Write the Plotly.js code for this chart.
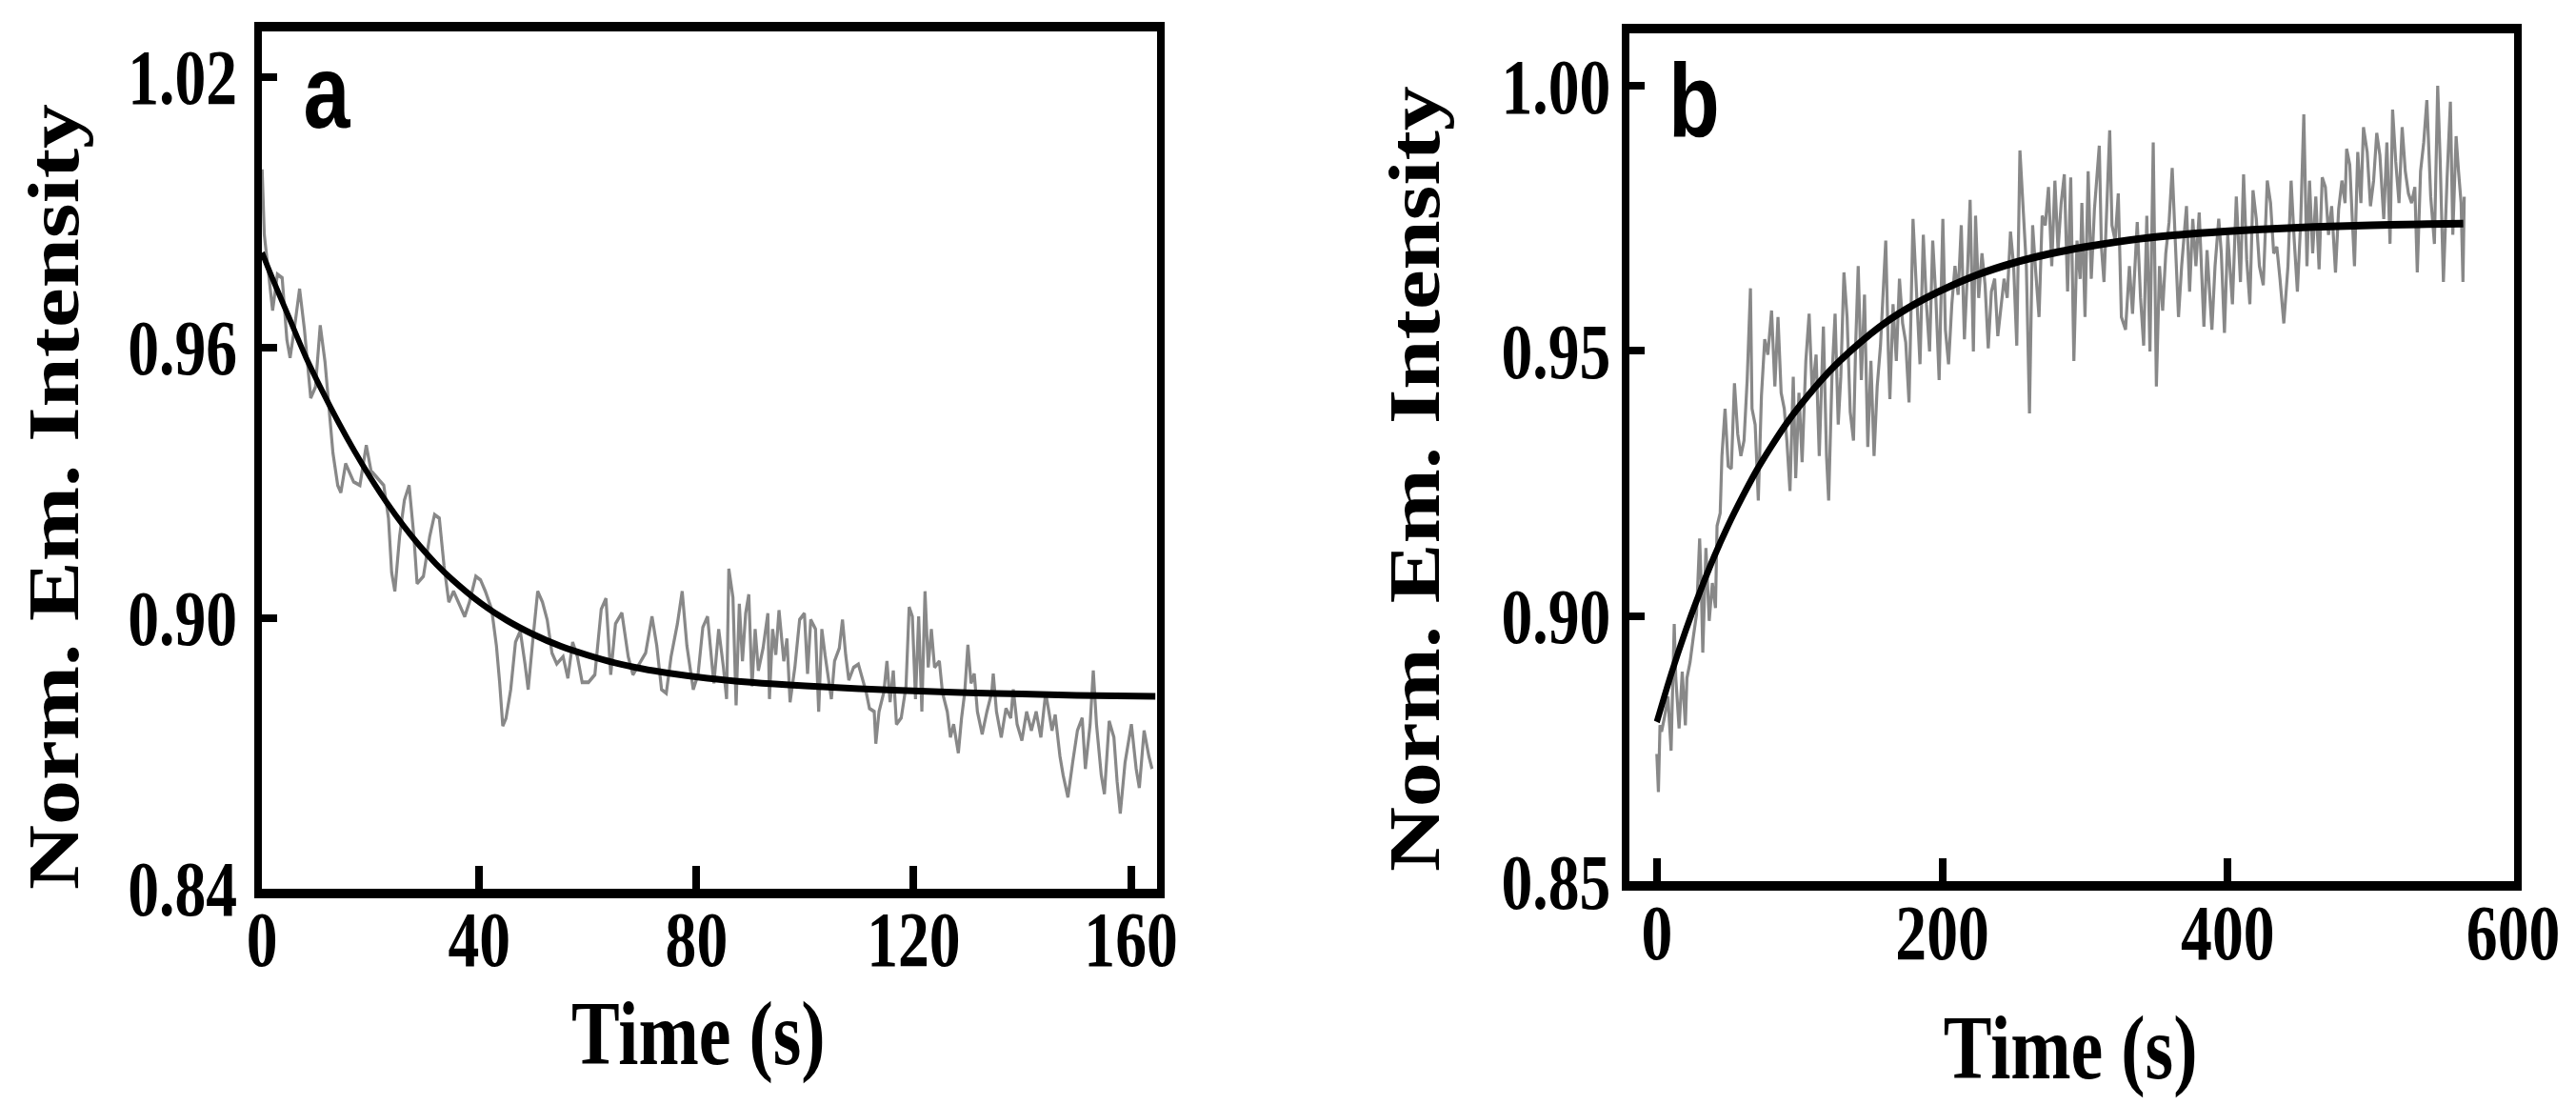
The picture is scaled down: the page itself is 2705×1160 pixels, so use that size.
<!DOCTYPE html>
<html>
<head>
<meta charset="utf-8">
<script src="https://cdn.plot.ly/plotly-3.0.1.min.js"></script>
<style>
  html, body { margin: 0; padding: 0; background: #ffffff; overflow: hidden; }
  #plot { width: 3381px; height: 1160px; transform: scaleX(0.8); transform-origin: 0 0; }
</style>
</head>
<body>
<div id="plot"></div>
<script>
// ---------- Panel a : measured trace ----------
const timeA = [
  0, 0.4, 1.05, 1.93, 2.81, 3.69, 4.56, 5.15, 6.02, 6.90,
  7.78, 8.95, 9.82, 10.70, 11.58, 12.46, 13.04, 13.92, 14.50, 15.38,
  16.84, 18.01, 19.18, 20.06, 21.23, 22.40, 23.27, 23.86, 24.44, 25.32,
  26.20, 27.07, 27.95, 28.54, 29.70, 30.87, 31.75, 32.63, 33.50, 34.38,
  35.26, 36.14, 37.31, 38.18, 39.35, 40.23, 41.11, 42.27, 43.15, 43.74,
  44.32, 44.91, 45.78, 46.66, 47.54, 48.41, 49.00, 49.88, 50.75, 51.63,
  52.51, 53.38, 54.26, 55.43, 56.31, 57.19, 58.06, 58.94, 60.11, 61.28,
  62.45, 63.32, 64.20, 65.08, 66.25, 67.42, 68.29, 69.46, 70.63, 71.80,
  72.68, 73.56, 74.43, 75.31, 76.48, 77.36, 78.23, 79.40, 80.28, 81.16,
  82.03, 82.91,
  83.20, 84.08, 84.96, 85.54, 85.95, 86.71, 87.29, 87.88, 88.46, 89.05,
  89.63, 90.22, 90.80, 91.39, 92.26, 93.14, 93.43, 94.02, 94.60, 95.19,
  96.07, 96.65, 97.23, 98.11, 98.99, 99.87, 100.45, 101.04, 101.91, 102.50,
  103.08, 103.67, 104.25, 104.84, 105.42, 106.30, 106.88, 107.47, 108.05, 108.93,
  109.81, 110.68, 111.27, 111.85, 112.73, 113.02, 113.61, 114.48, 115.07, 115.65,
  116.24, 116.82, 117.70, 118.58, 119.16, 119.75, 120.33, 120.91, 121.50, 122.08,
  122.67, 123.25, 123.84, 124.72, 125.30, 126.18, 126.76, 127.35, 128.22, 128.81,
  129.39, 129.98, 130.56, 131.15, 131.73, 132.61, 133.48, 134.36, 134.65, 135.24,
  136.12, 136.99, 137.87, 138.34, 139.04, 139.92, 140.79, 141.67, 142.55, 143.42,
  144.30, 144.89, 145.47, 146.06, 146.93, 147.52, 148.40, 149.27, 150.15, 151.03,
  151.61, 152.49, 153.07, 153.66, 154.54, 155.12, 156.00, 156.87, 157.46, 158.04,
  158.92, 160.09, 160.97, 161.55, 162.43, 163.31, 163.89
];
const intensityA = [
  0.9995, 0.9850, 0.9779, 0.9682, 0.9762, 0.9754, 0.9617, 0.9577, 0.9649, 0.9730,
  0.9641, 0.9488, 0.9512, 0.9649, 0.9568, 0.9439, 0.9366, 0.9294, 0.9278, 0.9342,
  0.9302, 0.9294, 0.9383, 0.9326, 0.9310, 0.9294, 0.9221, 0.9100, 0.9059, 0.9181,
  0.9261, 0.9294, 0.9181, 0.9076, 0.9092, 0.9181, 0.9229, 0.9221, 0.9116, 0.9035,
  0.9059, 0.9035, 0.9003, 0.9035, 0.9092, 0.9084, 0.9059, 0.9019, 0.8938, 0.8857,
  0.8760, 0.8777, 0.8841, 0.8946, 0.8971, 0.8898, 0.8841, 0.8954, 0.9059, 0.9035,
  0.8995, 0.8922, 0.8898, 0.8914, 0.8866, 0.8946, 0.8914, 0.8857, 0.8857, 0.8874,
  0.9019, 0.9043, 0.8874, 0.8987, 0.9011, 0.8914, 0.8874, 0.8898, 0.8922, 0.9003,
  0.8938, 0.8841, 0.8833, 0.8914, 0.8987, 0.9059, 0.8938, 0.8841, 0.8874, 0.8979,
  0.9003, 0.8890,
  0.8855, 0.8975, 0.8890, 0.8820, 0.9109, 0.9045, 0.8806, 0.9031, 0.8904, 0.9010,
  0.9052, 0.8848, 0.8975, 0.8883, 0.8933, 0.9010, 0.8820, 0.8975, 0.8918, 0.9017,
  0.8904, 0.8954, 0.8813, 0.8890, 0.8996, 0.9010, 0.8876, 0.8996, 0.8975, 0.8792,
  0.8975, 0.8918, 0.8869, 0.8820, 0.8904, 0.8933, 0.8996, 0.8918, 0.8862, 0.8890,
  0.8897, 0.8862, 0.8834, 0.8799, 0.8792, 0.8721, 0.8792, 0.8834, 0.8904, 0.8813,
  0.8883, 0.8764, 0.8778, 0.8848, 0.9024, 0.9003, 0.8820, 0.9003, 0.8792, 0.9059,
  0.8890, 0.8975, 0.8890, 0.8904, 0.8834, 0.8792, 0.8735, 0.8764, 0.8700, 0.8778,
  0.8834, 0.8940, 0.8855, 0.8876, 0.8792, 0.8742, 0.8792, 0.8834, 0.8876, 0.8792,
  0.8735, 0.8799, 0.8778, 0.8841, 0.8764, 0.8728, 0.8792, 0.8750, 0.8792, 0.8735,
  0.8834, 0.8792, 0.8750, 0.8785, 0.8693, 0.8651, 0.8602, 0.8679, 0.8750, 0.8778,
  0.8665, 0.8764, 0.8883, 0.8764, 0.8651, 0.8609, 0.8771, 0.8735, 0.8637, 0.8566,
  0.8679, 0.8764, 0.8665, 0.8623, 0.8750, 0.8693, 0.8665
];

// ---------- Panel a : fitted curve ----------
const fitTimeA = [0, 2, 5, 8, 11, 14, 17, 20, 23, 26, 29, 32, 35, 40, 45, 50, 55, 60, 65, 70,
  75, 82, 90, 100, 110, 120, 130, 140, 150, 164.5];
const fitA = [0.981, 0.975, 0.9665, 0.958, 0.9505, 0.9435, 0.937, 0.931, 0.9255, 0.9205,
  0.916, 0.912, 0.9085, 0.9035, 0.8995, 0.8963, 0.8937, 0.8917, 0.8900, 0.8887,
  0.8877, 0.8866, 0.8857, 0.8849, 0.8843, 0.8838, 0.8834, 0.8831, 0.8828, 0.8826];

// ---------- Panel b : measured trace ----------
const timeB = [
  0.0, 1.11, 2.22, 3.33, 5.56, 7.78, 10.0, 11.1, 12.2, 13.3,
  15.6, 17.8, 20.0, 21.1, 23.3, 25.6, 27.8, 30.0, 31.1, 32.2,
  34.4, 36.7, 38.9, 41.1, 42.2, 44.4, 45.6, 47.8, 50.0,
  52.2, 54.4, 56.7, 58.9, 61.1, 63.3, 65.6, 66.7, 68.9, 71.1,
  73.3, 75.6, 77.8, 80.4, 82.7, 84.9, 87.1, 89.3, 91.1, 93.3,
  95.6, 97.3, 99.6, 101.8, 104.4, 106.7, 108.9, 111.6, 113.8, 116.7,
  118.9, 120.4, 122.7, 124.9, 127.1, 128.9, 131.1, 133.3, 135.5, 137.8,
  139.3, 141.1, 143.3, 145.5, 147.8, 150.0, 152.2, 154.4, 156.7, 158.4,
  160.4, 162.2, 163.3, 165.5, 167.8, 170.0, 172.2, 174.4, 176.7, 179.5,
  181.8, 184.4, 186.7, 188.9, 191.1, 193.3, 195.5, 197.8, 200.4, 202.2,
  204.4, 206.7, 208.9, 211.1, 213.3, 215.5, 217.8, 219.5, 221.8, 223.3,
  225.5, 227.8, 230.0, 232.2, 234.4, 236.7, 238.9, 241.1, 243.3, 245.5,
  247.8, 250.0, 252.2, 254.4, 256.7, 258.9, 261.1, 263.3, 265.5, 267.8,
  270.0, 272.2, 274.4, 276.7, 278.9, 281.1, 283.3, 285.5, 287.8, 290.0,
  292.2, 294.4, 296.6, 297.8, 300.0, 302.2, 304.4, 306.6, 310.0, 311.5,
  313.3, 315.1, 317.3, 318.9, 321.1, 323.3, 325.5, 328.4, 331.1, 333.3,
  336.6, 338.9, 341.1, 343.3, 345.5, 347.8, 350.0, 352.2, 354.4, 356.6,
  358.9, 361.1, 363.3, 365.5, 367.7, 371.1, 373.3, 375.5, 377.7, 380.0,
  383.3, 385.5,
  388.9, 391.1, 393.7, 395.5, 397.7, 400.0, 403.3, 406.0, 408.9, 411.1,
  413.3, 415.5, 417.7, 420.0, 422.2, 424.9, 427.7, 430.0, 432.2, 434.4,
  436.6, 439.3, 442.2, 444.4, 446.6, 448.8, 451.1, 453.3, 455.5, 457.3,
  459.5, 461.7, 464.0, 466.2, 468.4, 470.6, 472.8, 475.5, 477.7, 480.0,
  482.2, 483.3, 485.5, 487.1, 488.8, 491.1, 493.3, 495.1, 497.7, 500.0,
  502.2, 504.4, 506.6, 509.3, 511.5, 513.7, 515.5, 517.7, 520.0, 522.2,
  524.4, 526.6, 528.8, 531.1, 532.8, 535.1, 537.3, 539.5, 542.2, 544.8,
  547.1, 548.8, 551.1, 553.7, 556.0, 557.7, 560.0, 561.7, 563.5, 564.8,
  565.7
];
const intensityB = [
  0.8740, 0.8668, 0.8794, 0.8782, 0.8812, 0.8848, 0.8746, 0.8853, 0.8985, 0.8883,
  0.8788, 0.8895, 0.8794, 0.8883, 0.8913, 0.8961, 0.9003, 0.9146, 0.9062, 0.8931,
  0.9128, 0.8991, 0.9062, 0.9015, 0.9170, 0.9194, 0.9301, 0.9391, 0.9283,
  0.9278, 0.9439, 0.9343, 0.9302, 0.9331, 0.9445, 0.9618, 0.9391, 0.9361, 0.9218,
  0.9415, 0.9522, 0.9493, 0.9576, 0.9433, 0.9564, 0.9421, 0.9391, 0.9331, 0.9236,
  0.9451, 0.9260, 0.9421, 0.9290, 0.9481, 0.9570, 0.9421, 0.9493, 0.9302, 0.9546,
  0.9302, 0.9218, 0.9451, 0.9570, 0.9361, 0.9451, 0.9648, 0.9564, 0.9385, 0.9331,
  0.9510, 0.9660, 0.9445, 0.9606, 0.9319, 0.9481, 0.9302, 0.9433, 0.9510, 0.9594,
  0.9708, 0.9499, 0.9409, 0.9588, 0.9481, 0.9636, 0.9552, 0.9516, 0.9403, 0.9749,
  0.9612, 0.9475, 0.9719, 0.9588, 0.9499, 0.9708, 0.9600, 0.9445, 0.9749, 0.9540,
  0.9475, 0.9588, 0.9660, 0.9606, 0.9737, 0.9522, 0.9660, 0.9785, 0.9499, 0.9755,
  0.9600, 0.9684, 0.9624, 0.9505, 0.9612, 0.9636, 0.9528, 0.9588, 0.9636, 0.9600,
  0.9725, 0.9660, 0.9510, 0.9878, 0.9773, 0.9660, 0.9382, 0.9737, 0.9648, 0.9564,
  0.9755, 0.9737, 0.9809, 0.9660, 0.9821, 0.9690, 0.9779, 0.9833, 0.9612, 0.9827,
  0.9481, 0.9708, 0.9636, 0.9779, 0.9564, 0.9839, 0.9636, 0.9767, 0.9887, 0.9696,
  0.9630, 0.9749, 0.9916, 0.9737, 0.9708, 0.9797, 0.9564, 0.9540, 0.9660, 0.9570,
  0.9743, 0.9600, 0.9510, 0.9755, 0.9499, 0.9893, 0.9433, 0.9660, 0.9576, 0.9684,
  0.9743, 0.9845, 0.9719, 0.9564, 0.9660, 0.9773, 0.9612, 0.9749, 0.9660, 0.9761,
  0.9546, 0.9690,
  0.9540, 0.9660, 0.9749, 0.9684, 0.9534, 0.9719, 0.9588, 0.9791, 0.9630, 0.9833,
  0.9672, 0.9588, 0.9803, 0.9749, 0.9660, 0.9624, 0.9821, 0.9779, 0.9684, 0.9696,
  0.9636, 0.9552, 0.9660, 0.9821, 0.9708, 0.9612, 0.9743, 0.9946, 0.9660, 0.9821,
  0.9684, 0.9791, 0.9654, 0.9827, 0.9809, 0.9719, 0.9773, 0.9648, 0.9767, 0.9821,
  0.9779, 0.9881, 0.9851, 0.9767, 0.9660, 0.9875, 0.9779, 0.9922, 0.9875, 0.9773,
  0.9821, 0.9911, 0.9869, 0.9749, 0.9893, 0.9702, 0.9955, 0.9857, 0.9779, 0.9922,
  0.9839, 0.9797, 0.9779, 0.9809, 0.9648, 0.9839, 0.9893, 0.9973, 0.9791, 0.9702,
  1.0000, 0.9863, 0.9630, 0.9827, 0.9970, 0.9719, 0.9905, 0.9839, 0.9779, 0.9630,
  0.9791
];

// ---------- Panel b : fitted curve ----------
const fitTimeB = [0, 10, 20, 30, 40, 50, 60, 70, 80, 90, 100, 120, 140, 160, 180, 200,
  225, 250, 275, 300, 340, 380, 420, 460, 500, 540, 565];
const fitB = [0.8800, 0.8890, 0.8971, 0.9044, 0.9111, 0.9171, 0.9225, 0.9275, 0.9319, 0.9360,
  0.9396, 0.9459, 0.9510, 0.9553, 0.9587, 0.9615, 0.9644, 0.9666, 0.9683, 0.9696,
  0.9712, 0.9722, 0.9729, 0.9734, 0.9737, 0.9739, 0.9740];

// ---------- Tick labels and titles ----------
const xTicksA = [0, 40, 80, 120, 160];
const yTicksA = [0.84, 0.90, 0.96, 1.02];
const xTicksB = [0, 200, 400, 600];
const yTicksB = [0.85, 0.90, 0.95, 1.00];
const xTitle = 'Time (s)';
const yTitle = 'Norm. Em. Intensity';
const panelLabels = ['a', 'b'];

const GRAY = '#888888';
const SERIF = 'Liberation Serif, Times New Roman, serif';
const SANS = 'Liberation Sans, Arial, sans-serif';

const traces = [
  { x: timeA, y: intensityA, xaxis: 'x', yaxis: 'y', type: 'scatter', mode: 'lines',
    line: { color: GRAY, width: 4 }, hoverinfo: 'skip' },
  { x: fitTimeA, y: fitA, xaxis: 'x', yaxis: 'y', type: 'scatter', mode: 'lines',
    line: { color: '#000000', width: 7, shape: 'spline' }, hoverinfo: 'skip' },
  { x: timeB, y: intensityB, xaxis: 'x2', yaxis: 'y2', type: 'scatter', mode: 'lines',
    line: { color: GRAY, width: 4 }, hoverinfo: 'skip' },
  { x: fitTimeB, y: fitB, xaxis: 'x2', yaxis: 'y2', type: 'scatter', mode: 'lines',
    line: { color: '#000000', width: 8, shape: 'spline' }, hoverinfo: 'skip' }
];

const tickFont = { family: SERIF, size: 82, color: '#000000', weight: 'bold' };

function xAxis(domain, range, ticks, anchor) {
  return {
    domain: domain, range: range, anchor: anchor,
    tickmode: 'array', tickvals: ticks, ticktext: ticks.map(String),
    ticks: 'inside', ticklen: 24, tickwidth: 10, tickcolor: '#000000',
    showline: true, linewidth: 10, linecolor: '#000000', mirror: true,
    showgrid: false, zeroline: false, tickfont: tickFont, ticklabelstandoff: -27,
    fixedrange: true
  };
}
function yAxis(domain, range, ticks, anchor, standoff) {
  return {
    domain: domain, range: range, anchor: anchor,
    tickmode: 'array', tickvals: ticks, ticktext: ticks.map(v => v.toFixed(2)),
    ticks: 'inside', ticklen: 20, tickwidth: 8, tickcolor: '#000000',
    showline: true, linewidth: 10, linecolor: '#000000', mirror: true,
    showgrid: false, zeroline: false, tickfont: tickFont, ticklabelstandoff: standoff,
    fixedrange: true
  };
}

const titleFont = { family: SERIF, size: 95, color: '#000000', weight: 'bold' };
const yTitleFont = { family: SERIF, size: 94, color: '#000000', weight: 'bold' };
const labelFont = { family: SANS, size: 110, color: '#000000', weight: 'bold' };

const layout = {
  width: 3381, height: 1160,
  margin: { l: 0, r: 0, t: 0, b: 0, pad: 0 },
  paper_bgcolor: '#ffffff', plot_bgcolor: '#ffffff',
  showlegend: false,
  xaxis: xAxis([0.10166, 0.44917], [-0.05, 164.8], xTicksA, 'y'),
  yaxis: yAxis([0.19569, 0.97198], [0.8399, 1.0302], yTicksA, 'x', 6),
  xaxis2: xAxis([0.63253, 0.97597], [-19.3, 600.5], xTicksB, 'y2'),
  yaxis2: yAxis([0.20216, 0.96983], [0.8499, 1.0099], yTicksB, 'x2', -2),
  annotations: [
    { xref: 'paper', yref: 'paper', x: 0.0207, y: 0.5509, text: yTitle, textangle: -90,
      xanchor: 'center', yanchor: 'middle', showarrow: false, font: yTitleFont },
    { xref: 'paper', yref: 'paper', x: 0.5490, y: 0.5664, text: yTitle, textangle: -90,
      xanchor: 'center', yanchor: 'middle', showarrow: false, font: yTitleFont },
    { xref: 'paper', yref: 'paper', x: 0.2710, y: 0.0650, text: xTitle,
      xanchor: 'center', yanchor: 'middle', showarrow: false, font: titleFont },
    { xref: 'paper', yref: 'paper', x: 0.8037, y: 0.0517, text: xTitle,
      xanchor: 'center', yanchor: 'middle', showarrow: false, font: titleFont },
    { xref: 'paper', yref: 'paper', x: 0.1172, y: 0.918, text: panelLabels[0],
      xanchor: 'left', yanchor: 'middle', showarrow: false, font: labelFont },
    { xref: 'paper', yref: 'paper', x: 0.6470, y: 0.910, text: panelLabels[1],
      xanchor: 'left', yanchor: 'middle', showarrow: false, font: labelFont }
  ]
};

Plotly.newPlot('plot', traces, layout, { displayModeBar: false, staticPlot: true });
</script>
</body>
</html>
